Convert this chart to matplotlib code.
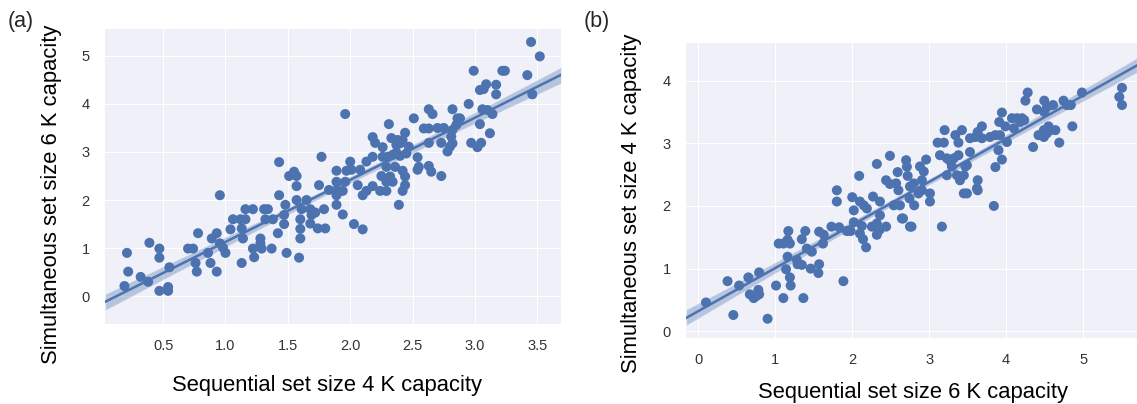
import numpy as np
import matplotlib
matplotlib.use("Agg")
import matplotlib.pyplot as plt
import seaborn as sns

# ---- Panel (a) data: Sequential set size 4 vs Simultaneous set size 6 ----
a_pts = [
    (0.21,0.90),(0.22,0.51),(0.19,0.21),(0.32,0.40),(0.38,0.30),(0.39,1.11),(0.47,0.99),(0.47,0.80),
    (0.55,0.60),(0.47,0.11),(0.54,0.19),(0.54,0.11),(0.70,0.99),(0.74,0.99),(0.78,1.31),(0.76,0.69),
    (0.77,0.51),(0.86,0.90),(0.88,0.69),(0.93,0.51),(0.89,1.20),(0.93,1.31),(0.955,2.10),(0.955,1.10),
    (0.98,1.01),(1.00,0.90),(1.04,1.39),(1.06,1.60),(1.12,1.60),(1.16,1.60),(1.13,1.41),(1.14,1.20),
    (1.13,0.69),(1.16,1.81),(1.22,1.81),(1.22,0.99),(1.23,0.81),(1.28,1.20),(1.28,1.10),(1.29,0.99),
    (1.31,1.81),(1.34,1.81),(1.32,1.60),(1.38,1.60),(1.37,0.99),(1.42,1.31),(1.43,2.10),(1.47,1.69),
    (1.47,1.50),(1.48,1.90),(1.49,0.90),(1.51,2.50),(1.57,2.50),(1.55,2.59),(1.57,2.29),(1.57,2.00),
    (1.60,1.60),(1.60,1.40),(1.60,1.20),(1.59,0.80),(1.61,1.81),(1.65,2.00),(1.68,1.81),(1.69,1.69),
    (1.68,1.51),(1.74,1.41),(1.80,1.41),(1.75,2.31),(1.79,1.81),(1.72,1.74),(1.83,2.21),(1.43,2.79),
    (1.77,2.90),
    (1.96,3.79),(2.31,3.58),(2.51,3.70),(2.63,3.89),(2.66,3.79),(2.82,3.89),(2.95,4.00),(2.99,4.69),
    (3.22,4.69),(3.24,4.69),(3.45,5.29),(3.52,4.99),(3.42,4.60),(3.46,4.20),(3.04,4.29),(3.07,4.31),
    (3.09,4.41),(3.17,4.40),(3.17,4.20),(3.06,3.89),(3.10,3.875),(3.14,3.79),(3.04,3.58),(3.12,3.39),
    (2.97,3.19),(3.02,3.10),(3.05,3.19),(2.86,3.70),(2.88,3.70),(2.85,3.56),(2.82,3.46),(2.81,3.32),
    (2.82,3.18),(2.78,3.01),(2.80,3.11),(2.73,3.19),(2.73,2.50),(2.63,3.19),(2.63,2.71),(2.65,2.59),
    (2.59,3.49),(2.63,3.49),(2.54,2.89),(2.55,2.69),(2.44,3.40),(2.42,3.25),(2.38,3.25),(2.33,3.29),
    (2.37,3.15),(2.40,3.18),(2.47,3.11),(2.45,2.97),(2.18,3.31),(2.20,3.19),(2.26,3.10),(2.13,2.80),
    (2.18,2.90),(2.26,2.90),(2.30,2.90),(2.34,2.94),(2.37,2.99),(2.40,2.92),(2.00,2.80),(1.89,2.61),
    (1.97,2.61),(2.01,2.63),(2.08,2.63),(2.25,2.50),(2.32,2.49),(2.42,2.61),(2.44,2.49),(2.29,2.69),
    (2.36,2.69),(2.70,3.50),(2.75,3.50),
    (1.89,2.38),(1.96,2.38),(1.89,2.19),(1.94,2.19),(1.89,2.10),(1.89,1.90),(1.94,1.70),(2.03,1.50),
    (2.10,1.39),(2.06,2.31),(2.10,2.10),(2.13,2.19),(2.18,2.29),(2.29,2.38),(2.34,2.38),(2.24,2.19),
    (2.29,2.19),(2.44,2.31),(2.42,2.19),(2.39,1.90),(2.54,2.63),
]
a_x = [p[0] for p in a_pts]
a_y = [p[1] for p in a_pts]

# ---- Panel (b) data: Sequential set size 6 vs Simultaneous set size 4 ----
b_pts = [
    (0.10,0.46),(0.455,0.26),(0.38,0.80),(0.53,0.73),(0.65,0.86),(0.79,0.94),(0.67,0.59),(0.72,0.53),
    (0.78,0.66),(0.79,0.59),(0.75,0.56),(0.90,0.20),(1.01,0.73),(1.105,0.53),(1.19,0.86),(1.20,0.73),
    (1.365,0.53),(1.14,0.99),(1.16,1.19),(1.045,1.40),(1.105,1.40),(1.19,1.40),(1.16,1.46),(1.17,1.60),
    (1.345,1.47),(1.39,1.60),(1.28,1.14),(1.345,1.06),(1.29,1.07),(1.41,1.32),(1.475,1.27),(1.46,1.00),
    (1.56,0.93),(1.57,1.07),(1.57,1.59),(1.62,1.40),(1.63,1.54),(1.73,1.67),(1.80,2.07),(1.80,2.25),
    (1.83,1.66),(1.93,1.60),(1.98,1.60),(1.885,0.80),(2.02,1.74),(2.00,2.14),(2.02,1.93),(2.10,2.07),
    (2.15,2.01),(2.19,1.96),(2.125,1.68),(2.10,1.56),(2.14,1.47),(2.18,1.34),(2.27,2.15),(2.36,2.07),
    (2.255,1.67),(2.32,1.72),(2.36,1.85),(2.355,1.62),(2.32,1.54),(2.44,1.67),(2.54,2.01),(2.62,2.01),
    (2.645,1.80),(2.60,2.25),(2.745,2.12),(2.75,1.67),(2.09,2.48),(2.32,2.67),(2.49,2.80),(2.44,2.41),
    (2.49,2.35),(2.57,2.36),(2.59,2.54),(2.70,2.73),(2.71,2.625),(2.72,2.48),(2.75,2.31),(2.80,2.36),
    (2.88,2.63),(2.905,2.41),(2.96,2.74),(3.01,2.20),(2.86,2.20),(2.93,2.55),(3.11,3.01),(3.19,3.01),
    (3.20,3.21),(3.14,2.81),(3.23,2.76),(3.27,2.72),(3.32,2.76),(3.38,2.81),(3.34,3.13),(3.425,3.21),
    (3.38,3.01),(3.295,2.63),(3.23,2.49),(3.36,2.49),(3.45,2.49),(3.40,2.41),(3.47,2.63),(3.53,2.86),
    (3.53,3.08),(3.60,3.10),(3.685,3.08),(3.63,3.18),(3.685,3.27),(3.49,2.65),(3.63,2.41),(3.62,2.28),
    (3.45,2.20),(3.49,2.20),(3.79,3.10),(3.86,3.13),(3.92,3.13),(3.90,2.89),(3.945,2.74),(3.86,2.62),
    (3.91,3.34),(3.945,3.49),(3.99,3.27),(4.01,3.02),(4.10,3.24),(4.075,3.40),(4.14,3.40),(4.205,3.40),
    (4.18,3.34),(4.235,3.37),(4.28,3.81),(4.25,3.68),(4.35,2.94),(4.40,3.54),(4.495,3.68),(4.53,3.58),
    (4.61,3.61),(4.495,3.50),(4.42,3.13),(4.49,3.21),(4.53,3.16),(4.55,3.27),(4.58,3.21),(4.64,3.21),
    (4.49,3.10),(4.69,3.01),(4.745,3.68),(4.79,3.61),(4.84,3.61),(4.86,3.27),(4.985,3.81),(5.505,3.885),
    (5.47,3.74),(5.505,3.61),(2.805,2.01),(3.01,2.07),(2.66,1.80),(2.77,1.67),(3.165,1.67),(3.84,2.00),
    (3.63,2.25),(2.905,2.25),
]
b_x = [p[0] for p in b_pts]
b_y = [p[1] for p in b_pts]

a_xlabel = "Sequential set size 4 K capacity"
a_ylabel = "Simultaneous set size 6 K capacity"
b_xlabel = "Sequential set size 6 K capacity"
b_ylabel = "Simultaneous set size 4 K capacity"
a_xticks = [0.5, 1.0, 1.5, 2.0, 2.5, 3.0, 3.5]
a_yticks = [0, 1, 2, 3, 4, 5]
b_xticks = [0, 1, 2, 3, 4, 5]
b_yticks = [0, 1, 2, 3, 4]

sns.set_style("darkgrid", {"axes.facecolor": "#eff0f8", "grid.color": "white"})
plt.rcParams['font.family'] = ['Liberation Sans', 'DejaVu Sans']

COLOR = "#4c72b0"
fig = plt.figure(figsize=(11.37, 4.04), dpi=100)
ax_a = fig.add_axes([105/1137, 1-324/404, 456/1137, 295/404])
ax_b = fig.add_axes([686/1137, 1-338/404, 451/1137, 295/404])

def panel(ax, x, y, xlim, ylim, xticks, yticks, xlabel, ylabel, xlc, ylc):
    ax.set_xlim(*xlim)
    ax.set_ylim(*ylim)
    ax.scatter(x, y, s=52, color=COLOR, edgecolor='none', zorder=3)
    sns.regplot(x=np.array(x), y=np.array(y), ax=ax, scatter=False, truncate=False,
                color=COLOR, seed=1, line_kws={'lw': 1.8}, ci=95)
    for coll in ax.collections[1:]:
        coll.set_alpha(0.35)
    ax.set_xlim(*xlim)
    ax.set_ylim(*ylim)
    ax.set_xticks(xticks)
    ax.set_yticks(yticks)
    ax.tick_params(axis='both', labelsize=10.5, colors='#333333', length=0)
    ax.tick_params(axis='x', pad=11)
    ax.tick_params(axis='y', pad=11)
    ax.set_xlabel(xlabel, fontsize=15.8, color='black')
    ax.set_ylabel(ylabel, fontsize=15.8, color='black')
    ax.xaxis.set_label_coords(*xlc)
    ax.yaxis.set_label_coords(*ylc)
    for s in ax.spines.values():
        s.set_visible(False)

panel(ax_a, a_x, a_y, (0.034, 3.69), (-0.58, 5.56), a_xticks, a_yticks,
      a_xlabel, a_ylabel, (0.487, -0.172), (-0.095, 0.44))
ax_a.set_xticklabels([f"{v:.1f}" for v in a_xticks])
panel(ax_b, b_x, b_y, (-0.16, 5.70), (-0.107, 4.6), b_xticks, b_yticks,
      b_xlabel, b_ylabel, (0.503, -0.150), (-0.098, 0.455))

fig.text(8/1137, 1-22/404, "(a)", fontsize=15.5, va='center', ha='left')
fig.text(584/1137, 1-22/404, "(b)", fontsize=15.5, va='center', ha='left')

fig.savefig("out.png", dpi=100)
